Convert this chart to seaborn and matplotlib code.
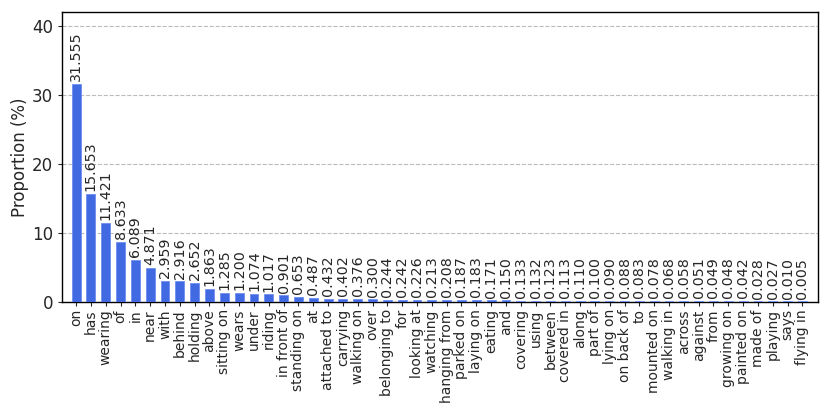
import matplotlib
matplotlib.use("Agg")
import matplotlib.pyplot as plt
import seaborn as sns
import pandas as pd

categories = ["on", "has", "wearing", "of", "in", "near", "with", "behind", "holding", "above",
              "sitting on", "wears", "under", "riding", "in front of", "standing on", "at",
              "attached to", "carrying", "walking on", "over", "belonging to", "for", "looking at",
              "watching", "hanging from", "parked on", "laying on", "eating", "and", "covering",
              "using", "between", "covered in", "along", "part of", "lying on", "on back of", "to",
              "mounted on", "walking in", "across", "against", "from", "growing on", "painted on",
              "made of", "playing", "says", "flying in"]
proportions = [31.555, 15.653, 11.421, 8.633, 6.089, 4.871, 2.959, 2.916, 2.652, 1.863,
               1.285, 1.200, 1.074, 1.017, 0.901, 0.653, 0.487, 0.432, 0.402, 0.376,
               0.300, 0.244, 0.242, 0.226, 0.213, 0.208, 0.187, 0.183, 0.171, 0.150,
               0.133, 0.132, 0.123, 0.113, 0.110, 0.100, 0.090, 0.088, 0.083, 0.078,
               0.068, 0.058, 0.051, 0.049, 0.048, 0.042, 0.028, 0.027, 0.010, 0.005]

df = pd.DataFrame({"predicate": categories, "proportion": proportions})

sns.set_style("white")
plt.rcParams['font.family'] = ['DejaVu Sans']

fig = plt.figure(figsize=(8.3, 4.15), dpi=100)
ax = fig.add_axes([62/830, 1 - 301.5/415, (818-62)/830, (301.5-12.3)/415])

sns.barplot(data=df, x="predicate", y="proportion", color="#4169E1", width=0.6,
            saturation=1, ax=ax, zorder=3, edgecolor="#6f8ff0", linewidth=0.6)

for i, v in enumerate(proportions):
    ax.text(i, v + 0.4, f"{v:.3f}", rotation=90, ha="center", va="bottom", fontsize=10.3)

ax.set_xlim(-0.95, 50.05)
ax.set_ylim(0, 42)
ax.set_yticks([0, 10, 20, 30, 40])
ax.yaxis.grid(True, linestyle="--", color="#bbbbbb", linewidth=0.8, zorder=0)
ax.set_axisbelow(True)
ax.set_xlabel("")
ax.set_ylabel("Proportion (%)", fontsize=12, labelpad=2)
ax.tick_params(axis="x", rotation=90, labelsize=10, length=3, width=0.8, bottom=True, pad=2.5)
ax.tick_params(axis="y", labelsize=12, length=3, width=0.8, left=True)
for s in ax.spines.values():
    s.set_color("black")
    s.set_linewidth(1.0)

fig.savefig("out.png", dpi=100)
